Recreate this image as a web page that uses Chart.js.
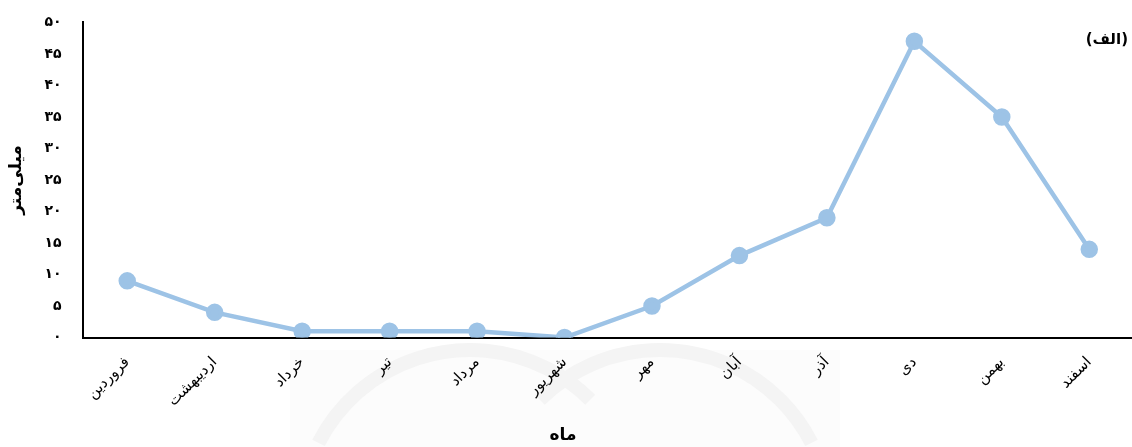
<!DOCTYPE html>
<html lang="fa">
<head>
<meta charset="utf-8">
<script src="https://cdn.jsdelivr.net/npm/chart.js@4"></script>
<style>
  html, body { margin: 0; padding: 0; background: #fff; overflow: hidden; }
  #view { width: 1132px; height: 447px; overflow: hidden; }
  #wrap { width: 1144px; height: 447px; }
</style>
</head>
<body>
<div id="view"><div id="wrap"><canvas id="barandegi"></canvas></div></div>
<script>
const months = ['فروردین', 'اردیبهشت', 'خرداد', 'تیر', 'مرداد', 'شهریور', 'مهر', 'آبان', 'آذر', 'دی', 'بهمن', 'اسفند'];
const rainfall = [9, 4, 1, 1, 1, 0, 5, 13, 19, 47, 35, 14];
const yTicks = [0, 5, 10, 15, 20, 25, 30, 35, 40, 45, 50];

const faDigits = '۰۱۲۳۴۵۶۷۸۹';
function toFa(n) {
  return String(n).replace(/[0-9]/g, d => faDigits[d]);
}

const fontFa = "'DejaVu Sans', 'Noto Sans', sans-serif";

// faint logo behind the lower part of the chart
const watermark = {
  id: 'watermark',
  beforeDraw(chart) {
    const c = chart.ctx;
    c.save();
    c.fillStyle = '#fcfcfc';
    c.fillRect(290, 350, 550, 97);
    c.strokeStyle = '#f4f4f4';
    c.lineWidth = 14;
    c.beginPath();
    c.arc(470, 520, 170, Math.PI * 1.15, Math.PI * 1.75);
    c.stroke();
    c.beginPath();
    c.arc(660, 520, 170, Math.PI * 1.25, Math.PI * 1.85);
    c.stroke();
    c.restore();
  }
};

// panel label top right, and the month axis title under the labels
const extraText = {
  id: 'extraText',
  afterDraw(chart) {
    const c = chart.ctx;
    c.save();
    c.fillStyle = '#000';
    c.textBaseline = 'middle';
    c.font = 'bold 15px ' + fontFa;
    c.textAlign = 'right';
    c.fillText('(الف)', 1128, 40);
    c.font = 'bold 17px ' + fontFa;
    c.textAlign = 'center';
    c.fillText('ماه', 563, 436);
    c.restore();
  }
};

const ctx = document.getElementById('barandegi').getContext('2d');
const rainChart = new Chart(ctx, {
  type: 'line',
  data: {
    labels: months,
    datasets: [{
      data: rainfall,
      borderColor: '#9dc3e6',
      backgroundColor: '#9dc3e6',
      borderWidth: 4.5,
      pointRadius: 6.5,
      pointHoverRadius: 6.5,
      tension: 0
    }]
  },
  options: {
    responsive: true,
    maintainAspectRatio: false,
    animation: false,
    layout: { padding: { top: 7, right: 0, bottom: 29, left: 6 } },
    plugins: {
      legend: { display: false },
      tooltip: { enabled: false }
    },
    scales: {
      x: {
        offset: true,
        grid: { display: false },
        border: { display: true, color: '#000', width: 2 },
        ticks: {
          color: '#000',
          font: { family: fontFa, size: 15 },
          minRotation: 45,
          maxRotation: 45,
          padding: 8
        }
      },
      y: {
        min: 0,
        max: 50,
        afterBuildTicks(axis) {
          axis.ticks = yTicks.map(v => ({ value: v }));
        },
        grid: { display: false },
        border: { display: true, color: '#000', width: 2 },
        ticks: {
          color: '#000',
          font: { family: fontFa, size: 14, weight: 'bold' },
          padding: 14,
          callback: v => toFa(v)
        },
        title: {
          display: true,
          text: 'میلی‌متر',
          color: '#000',
          font: { family: fontFa, size: 17, weight: 'bold' },
          padding: { top: 0, bottom: 4 }
        }
      }
    }
  },
  plugins: [watermark, extraText]
});
</script>
</body>
</html>
